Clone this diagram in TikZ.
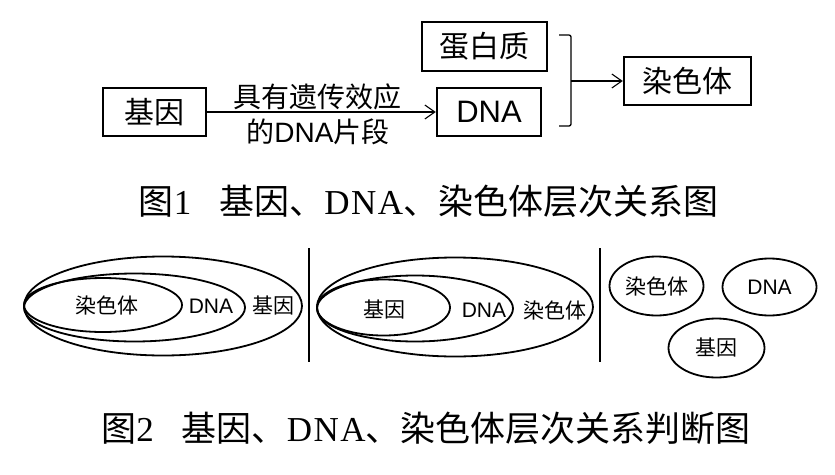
\documentclass[tikz,border=0pt]{standalone}
\usepackage{fontspec}
\setmainfont{Liberation Serif}
\newfontfamily\cjk{Noto Sans CJK SC}
\newfontfamily\arial{Liberation Sans}
\usetikzlibrary{arrows.meta,shapes.geometric}
\tikzset{
  boxnode/.style={draw, line width=2.4pt, inner sep=0pt, minimum height=48.5pt,
    font=\fontsize{30}{34}\selectfont\cjk},
  conn/.style={line width=1.1pt, -{Straight Barb[length=10pt,width=14pt,line width=1.1pt]}},
  bracketline/.style={line width=1.3pt, rounded corners=2pt},
  arrowlabel/.style={inner sep=0pt, font=\fontsize{28}{32}\selectfont\cjk},
  caption/.style={inner sep=0pt, font=\fontsize{35}{40}\selectfont},
  ell/.style={draw, ellipse, line width=1.8pt, inner sep=0pt},
  smalllabel/.style={inner sep=0pt, font=\fontsize{21}{24}\selectfont\cjk},
  sep/.style={line width=1.5pt}
}
\newcommand\spDNA{D\kern1.5pt N\kern1.5pt A}
\begin{document}
\begin{tikzpicture}[x=1pt,y=-1pt]
\useasboundingbox (0,0) rectangle (835,474);
% ---- figure 1 ----
\node[boxnode, minimum width=103pt] (gene) at (154.5,112) {基因};
\node[boxnode, minimum width=104pt, font=\fontsize{31}{34}\selectfont\arial] (dna) at (489,112) {DNA};
\node[boxnode, minimum width=125pt] (protein) at (484.5,46.5) {蛋白质};
\node[boxnode, minimum width=127pt] (chrom) at (687.5,81) {染色体};
\draw[conn] (gene.east) -- (dna.west);
\node[arrowlabel] (lab1) at (317,97) {具有遗传效应};
\node[arrowlabel] (lab2) at (318,132) {的{\arial DNA}片段};
\coordinate (bt) at (559,35);
\coordinate (bb) at (559,126);
\coordinate (bm) at (571,81);
\draw[bracketline] (bt) -- (571,35) -- (571,126) -- (bb);
\draw[conn] (bm) -- (chrom.west);
\node[caption] (cap1) at (428.5,201) {{\cjk 图}1\hspace{0.8em}{\cjk 基因、}\spDNA{\cjk 、染色体层次关系图}};
% ---- figure 2, group 1 ----
\node[ell, minimum width=278pt, minimum height=99pt] (g1o) at (163,306) {};
\node[ell, minimum width=221pt, minimum height=68pt] (g1m) at (134.5,307.5) {};
\node[ell, minimum width=158pt, minimum height=54pt] (g1i) at (103,305) {};
\node[smalllabel] (g1a) at (107,305) {染色体};
\node[smalllabel, font=\fontsize{21}{24}\selectfont\arial] (g1b) at (211,306) {DNA};
\node[smalllabel] (g1c) at (273,306) {基因};
\draw[sep] (309,248) -- (309,362);
% ---- group 2 ----
\node[ell, minimum width=276pt, minimum height=99pt] (g2o) at (455,307) {};
\node[ell, minimum width=196pt, minimum height=66pt] (g2m) at (415,308.5) {};
\node[ell, minimum width=133pt, minimum height=56pt] (g2i) at (383.5,307.5) {};
\node[smalllabel] (g2a) at (384,310) {基因};
\node[smalllabel, font=\fontsize{21}{24}\selectfont\arial] (g2b) at (484,310) {DNA};
\node[smalllabel] (g2c) at (555,310) {染色体};
\draw[sep] (600,248) -- (600,362);
% ---- group 3 ----
\node[ell, minimum width=94pt, minimum height=59pt, font=\fontsize{21}{24}\selectfont\cjk] (e1) at (656.5,286) {染色体};
\node[ell, minimum width=94pt, minimum height=57pt, font=\fontsize{21}{24}\selectfont\arial] (e2) at (769.5,287) {DNA};
\node[ell, minimum width=96pt, minimum height=59pt, font=\fontsize{21}{24}\selectfont\cjk] (e3) at (716.5,348) {基因};
\node[caption] (cap2) at (426,428) {{\cjk 图}2\hspace{0.8em}{\cjk 基因、}\spDNA{\cjk 、染色体层次关系判断图}};
\end{tikzpicture}
\end{document}
